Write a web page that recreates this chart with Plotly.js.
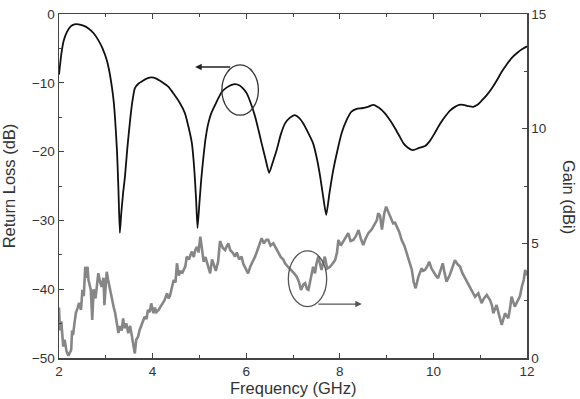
<!DOCTYPE html>
<html>
<head>
<meta charset="utf-8">
<script src="https://cdn.plot.ly/plotly-3.0.1.min.js"></script>
<style>html,body{margin:0;padding:0;background:#fff;}#chart{width:580px;height:399px;}</style>
</head>
<body>
<div id="chart"></div>
<script>
// Return loss (left axis, dB)
const rlFreq = [2.00,2.05,2.10,2.17,2.25,2.33,2.42,2.52,2.63,2.74,2.84,2.93,3.02,3.08,3.13,3.17,3.20,3.24,3.27,3.30,3.33,3.37,3.41,3.46,3.52,3.57,3.62,3.70,3.77,3.87,3.98,4.08,4.20,4.34,4.45,4.57,4.69,4.77,4.84,4.89,4.93,4.96,5.00,5.04,5.08,5.13,5.19,5.26,5.33,5.40,5.48,5.58,5.69,5.76,5.86,5.93,6.01,6.10,6.19,6.26,6.33,6.41,6.49,6.57,6.65,6.74,6.83,6.93,7.04,7.13,7.22,7.32,7.43,7.51,7.58,7.65,7.71,7.78,7.86,7.95,8.04,8.14,8.25,8.36,8.47,8.60,8.72,8.83,8.96,9.07,9.18,9.27,9.36,9.45,9.55,9.68,9.82,9.93,10.03,10.14,10.25,10.36,10.46,10.55,10.64,10.75,10.85,10.94,11.03,11.14,11.25,11.36,11.46,11.57,11.67,11.80,11.90,12.00];
const rlVal = [-8.8,-5.8,-3.9,-2.6,-1.8,-1.5,-1.5,-1.7,-2.1,-2.8,-3.8,-5.0,-6.7,-8.5,-10.6,-12.8,-15.4,-20.0,-25.5,-31.8,-29.0,-26.0,-23.6,-19.5,-15.4,-12.6,-10.8,-10.1,-9.8,-9.4,-9.2,-9.4,-9.9,-10.6,-11.6,-12.8,-14.4,-16.5,-18.8,-22.5,-27.0,-31.1,-27.5,-24.0,-21.2,-18.2,-15.9,-14.3,-13.3,-12.3,-11.3,-10.7,-10.3,-10.2,-10.4,-10.8,-11.5,-13.0,-14.9,-16.8,-18.8,-21.0,-23.1,-21.5,-19.8,-17.5,-15.9,-15.1,-14.7,-15.1,-15.9,-17.2,-18.8,-21.0,-23.6,-26.8,-29.2,-26.0,-22.7,-19.8,-17.3,-15.5,-14.2,-13.8,-13.7,-13.5,-13.2,-13.6,-14.4,-15.4,-16.6,-17.7,-18.8,-19.4,-19.8,-19.5,-19.2,-18.4,-17.3,-16.0,-14.9,-14.0,-13.5,-13.2,-13.2,-13.4,-13.5,-13.2,-12.6,-11.8,-10.8,-9.6,-8.4,-7.3,-6.4,-5.6,-5.1,-4.7];

// Gain (right axis, dBi)
const gainFreq = [2.00,2.02,2.05,2.09,2.12,2.16,2.20,2.26,2.28,2.30,2.33,2.36,2.40,2.43,2.47,2.50,2.53,2.56,2.58,2.61,2.63,2.66,2.68,2.71,2.74,2.78,2.81,2.84,2.88,2.91,2.95,2.97,3.00,3.02,3.05,3.09,3.14,3.17,3.20,3.24,3.27,3.30,3.34,3.37,3.40,3.44,3.48,3.52,3.55,3.58,3.62,3.65,3.69,3.72,3.76,3.80,3.83,3.87,3.90,3.94,3.97,4.02,4.05,4.08,4.13,4.17,4.21,4.25,4.31,4.34,4.37,4.41,4.45,4.49,4.52,4.56,4.60,4.63,4.67,4.70,4.73,4.78,4.81,4.84,4.88,4.91,4.95,4.98,5.02,5.06,5.09,5.13,5.16,5.20,5.23,5.27,5.30,5.35,5.40,5.44,5.50,5.55,5.59,5.62,5.66,5.71,5.76,5.80,5.85,5.90,5.94,5.99,6.04,6.09,6.14,6.19,6.24,6.29,6.33,6.38,6.43,6.47,6.52,6.58,6.63,6.69,6.74,6.79,6.83,6.88,6.93,6.97,7.02,7.08,7.13,7.17,7.22,7.26,7.30,7.33,7.38,7.43,7.47,7.50,7.54,7.58,7.61,7.65,7.68,7.73,7.79,7.84,7.90,7.94,7.97,8.02,8.07,8.12,8.18,8.23,8.29,8.34,8.40,8.45,8.50,8.55,8.61,8.68,8.75,8.79,8.82,8.86,8.90,8.95,8.99,9.03,9.07,9.14,9.18,9.22,9.27,9.32,9.38,9.43,9.48,9.54,9.58,9.62,9.68,9.75,9.78,9.82,9.87,9.91,9.96,10.00,10.05,10.10,10.15,10.20,10.24,10.28,10.35,10.40,10.46,10.51,10.57,10.62,10.68,10.73,10.78,10.84,10.89,10.96,11.03,11.08,11.14,11.21,11.25,11.28,11.35,11.40,11.46,11.53,11.60,11.64,11.67,11.74,11.81,11.85,11.89,11.93,11.96,12.00];
const gainVal = [2.2,1.2,1.6,0.5,0.8,0.3,0.1,0.35,1.2,1.0,1.5,1.96,2.2,2.4,2.1,2.97,2.7,3.98,3.5,3.98,3.4,3.1,2.97,1.66,3.0,2.6,3.2,3.7,3.3,3.1,3.5,2.3,3.2,3.76,3.4,2.97,2.4,2.2,1.96,1.5,1.09,1.4,1.2,1.73,1.3,1.5,1.08,1.4,1.0,0.6,0.2,0.8,0.93,1.2,1.4,1.6,1.8,1.7,2.1,2.0,2.38,1.95,2.2,2.0,2.1,2.24,2.4,2.5,2.82,2.6,2.7,3.0,3.4,3.3,4.13,3.6,3.8,3.69,3.9,4.0,4.42,4.3,4.5,4.64,4.4,4.7,4.85,4.6,5.29,4.6,4.2,4.4,4.13,3.9,3.69,4.3,4.13,3.8,4.2,5.1,4.8,4.71,4.9,5.0,4.7,4.6,4.42,4.6,4.3,4.42,4.1,3.9,3.69,4.0,4.2,4.42,4.7,5.0,5.22,5.0,5.15,5.15,4.9,5.0,4.8,4.57,4.4,4.3,4.13,4.0,3.9,3.84,3.7,3.55,3.3,2.97,3.2,3.26,3.0,2.97,3.5,3.98,3.69,4.1,4.42,4.0,3.84,4.2,4.42,3.9,3.98,4.1,4.27,4.6,5.15,4.9,5.07,5.2,5.44,5.1,5.15,5.3,5.58,5.2,4.93,5.2,5.44,5.6,5.87,6.0,6.31,6.2,5.6,6.3,6.6,6.4,6.16,5.87,5.9,5.73,5.5,5.15,4.9,4.57,4.2,3.84,3.3,3.04,3.55,3.91,3.8,3.84,4.0,4.2,3.9,3.76,3.6,3.48,3.8,4.13,3.7,3.33,3.62,3.9,4.27,4.1,3.98,3.7,3.48,3.3,3.11,2.9,2.67,2.82,2.39,2.6,2.75,2.53,2.3,1.95,2.31,1.9,1.44,1.95,1.73,2.2,2.67,2.24,2.53,2.7,3.11,3.4,3.84,3.6,4.0];

const tickFont = {family: 'Liberation Sans, Arial, sans-serif', size: 13.5, color: '#333'};
const titleFont = {family: 'Liberation Sans, Arial, sans-serif', size: 16.5, color: '#333'};
const axisColor = '#444';

const traces = [
  {x: rlFreq, y: rlVal, type: 'scatter', mode: 'lines', name: 'Return Loss',
   line: {color: '#111', width: 1.8, shape: 'spline', smoothing: 0.5}, yaxis: 'y', hoverinfo: 'skip'},
  {x: gainFreq, y: gainVal, type: 'scatter', mode: 'lines', name: 'Gain',
   line: {color: '#868686', width: 2.6}, yaxis: 'y2', hoverinfo: 'skip'}
];

const layout = {
  width: 580, height: 399,
  margin: {l: 59, r: 53, t: 14, b: 41},
  paper_bgcolor: '#fff', plot_bgcolor: '#fff',
  showlegend: false,
  xaxis: {
    range: [2, 12], dtick: 2, tick0: 2,
    showgrid: false, zeroline: false,
    showline: true, linecolor: axisColor, linewidth: 1.5, mirror: 'ticks',
    ticks: 'inside', ticklen: 5, tickwidth: 1.2, tickcolor: axisColor,
    minor: {dtick: 1, ticks: 'inside', ticklen: 3, tickwidth: 1, tickcolor: axisColor},
    tickfont: tickFont,
    automargin: false
  },
  yaxis: {
    range: [-50, 0], dtick: 10,
    showgrid: false, zeroline: false,
    showline: true, linecolor: axisColor, linewidth: 1.5,
    ticks: 'inside', ticklen: 5, tickwidth: 1.2, tickcolor: axisColor,
    minor: {dtick: 5, ticks: 'inside', ticklen: 3, tickwidth: 1, tickcolor: axisColor},
    tickfont: tickFont,
    title: {text: 'Return Loss (dB)', font: titleFont, standoff: 14},
    automargin: false
  },
  yaxis2: {
    range: [0, 15], dtick: 5, overlaying: 'y', side: 'right',
    showgrid: false, zeroline: false,
    showline: true, linecolor: axisColor, linewidth: 1.5,
    ticks: 'inside', ticklen: 5, tickwidth: 1.2, tickcolor: axisColor,
    minor: {dtick: 2.5, ticks: 'inside', ticklen: 3, tickwidth: 1, tickcolor: axisColor},
    tickfont: tickFont,
    automargin: false
  },
  shapes: [
    {type: 'circle', xref: 'x', yref: 'y', x0: 5.48, x1: 6.26, y0: -7.4, y1: -14.7,
     line: {color: '#333', width: 1.3}},
    {type: 'circle', xref: 'x', yref: 'y2', x0: 6.90, x1: 7.72, y0: 4.67, y1: 2.24,
     line: {color: '#555', width: 1.3}}
  ],
  annotations: [
    {x: 4.91, y: -7.7, ax: 5.69, ay: -7.7, xref: 'x', yref: 'y', axref: 'x', ayref: 'y',
     showarrow: true, arrowhead: 2, arrowsize: 1, arrowwidth: 1.3, arrowcolor: '#222', text: ''},
    {x: 8.47, y: 2.35, ax: 7.51, ay: 2.35, xref: 'x', yref: 'y2', axref: 'x', ayref: 'y2',
     showarrow: true, arrowhead: 2, arrowsize: 1, arrowwidth: 1.3, arrowcolor: '#555', text: ''},
    {text: 'Frequency (GHz)', xref: 'paper', yref: 'paper', x: 0.5, y: -0.116,
     xanchor: 'center', yanchor: 'bottom', showarrow: false, font: titleFont, borderpad: 0},
    {text: 'Gain (dBi)', xref: 'paper', yref: 'paper', x: 1.09, y: 0.468,
     xanchor: 'center', yanchor: 'middle', textangle: 90, showarrow: false, font: titleFont}
  ]
};

Plotly.newPlot('chart', traces, layout, {staticPlot: true, displayModeBar: false});
</script>
</body>
</html>
